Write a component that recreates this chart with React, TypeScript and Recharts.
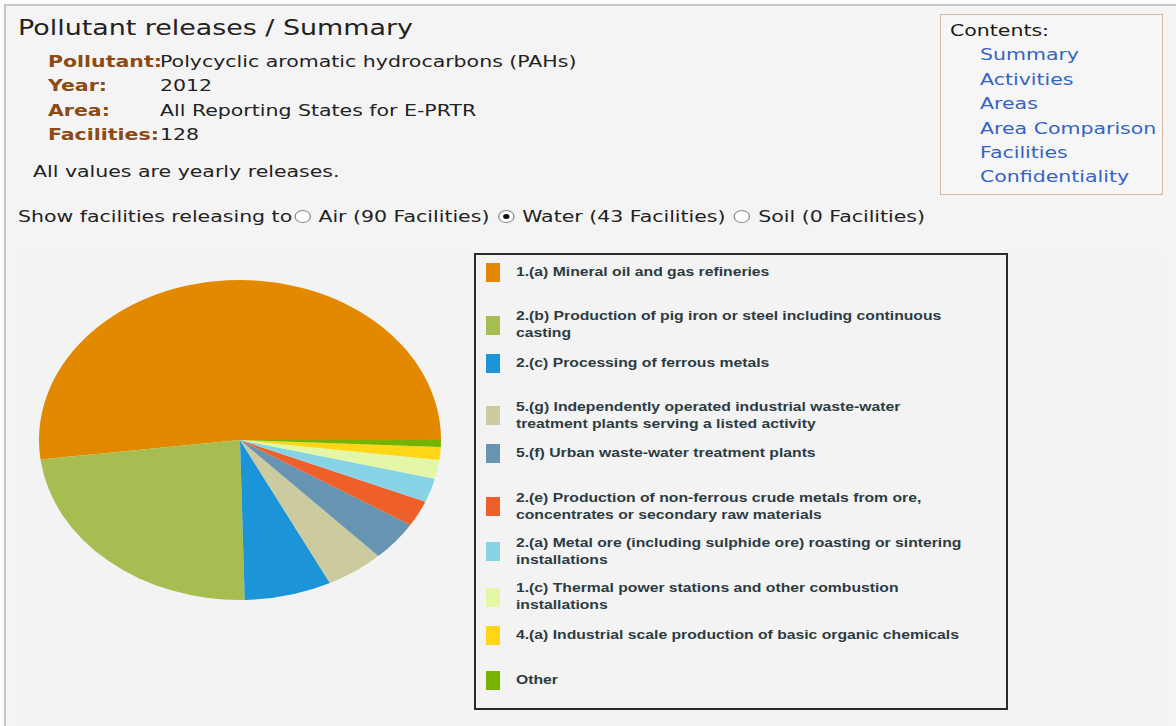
import { PieChart, Pie, Cell, Legend } from 'recharts';

const activities = [
    "1.(a) Mineral oil and gas refineries",
    "2.(b) Production of pig iron or steel including continuous\ncasting",
    "2.(c) Processing of ferrous metals",
    "5.(g) Independently operated industrial waste-water\ntreatment plants serving a listed activity",
    "5.(f) Urban waste-water treatment plants",
    "2.(e) Production of non-ferrous crude metals from ore,\nconcentrates or secondary raw materials",
    "2.(a) Metal ore (including sulphide ore) roasting or sintering\ninstallations",
    "1.(c) Thermal power stations and other combustion\ninstallations",
    "4.(a) Industrial scale production of basic organic chemicals",
    "Other",
];
// share of yearly water releases (%)
const shares = [51.9, 23.4, 7.0, 4.7, 4.0, 2.6, 2.4, 1.9, 1.3, 0.7];
const colors = [
    "#E38900", "#A6BD52", "#1B95D8", "#CCCA9F", "#6694B1",
    "#EE5F2A", "#87D3E6", "#E4F7A6", "#FFD616", "#76B300",
];

const details = [
    ["Pollutant:", "Polycyclic aromatic hydrocarbons (PAHs)"],
    ["Year:", "2012"],
    ["Area:", "All Reporting States for E-PRTR"],
    ["Facilities:", "128"],
];
const contentLinks = ["Summary", "Activities", "Areas", "Area Comparison", "Facilities", "Confidentiality"];
const mediums = [
    { label: "Air (90 Facilities)", checked: false },
    { label: "Water (43 Facilities)", checked: true },
    { label: "Soil (0 Facilities)", checked: false },
];

const data = activities.map((name, i) => ({ name, value: shares[i] }));

const CX = 240;
const CY = 440;
const RX = 201;
const RY = 160;
// the whole page looks stretched sideways
const SX = 1.28;

const stretch = { transform: `scaleX(${SX})`, transformOrigin: '0 0' } as const;

function Radio({ checked }: { checked: boolean }) {
    return (
        <span style={{
            display: 'inline-block', width: 13, height: 13, borderRadius: '50%',
            border: '1px solid #8a8a8a', background: '#fff', position: 'relative',
            margin: '0 6px 0 1.5px', verticalAlign: '-1px', boxSizing: 'border-box',
        }}>
            {checked && <span style={{
                position: 'absolute', left: 3, top: 3, width: 5, height: 5,
                borderRadius: '50%', background: '#111',
            }} />}
        </span>
    );
}

function LegendBox(props: any) {
    const items = [...(props.payload || [])].sort(
        (a: any, b: any) => activities.indexOf(a.value) - activities.indexOf(b.value));
    return (
        <div style={{
            width: 534, height: 457, boxSizing: 'border-box', border: '2px solid #2a2a2a',
            paddingTop: 8, fontFamily: '"Liberation Sans", Arial, sans-serif',
        }}>
            {items.map((it: any) => (
                <div key={it.value} style={{ height: 45.33 }}>
                    <div style={{ display: 'flex', alignItems: 'center' }}>
                        <span style={{
                            display: 'inline-block', width: 14, height: 19, marginLeft: 10,
                            marginRight: 16, background: it.color, flexShrink: 0,
                        }} />
                        <span style={{
                            fontSize: 12, fontWeight: 'bold', lineHeight: '17px', color: '#2c3b42',
                            whiteSpace: 'pre', display: 'inline-block',
                            transform: 'scaleX(1.31)', transformOrigin: '0 0',
                        }}>{it.value}</span>
                    </div>
                </div>
            ))}
        </div>
    );
}

export default function App() {
    return (
        <div style={{
            position: 'absolute', left: 0, top: 0, width: 1176, height: 726, overflow: 'hidden',
            background: '#fbfbfb', fontFamily: '"DejaVu Sans", Verdana, sans-serif',
        }}>
            <style>{`
                .ellipse-pie .recharts-pie-sector {
                    transform-box: view-box;
                    transform-origin: 0 0;
                    transform: translate(0px, ${CY}px) scale(1, ${RY / RX}) translate(0px, -${CY}px);
                }
            `}</style>
            <div style={{
                position: 'absolute', left: 4, top: 4, width: 1180, height: 730,
                borderTop: '2px solid #c6c6c6', borderLeft: '2px solid #c6c6c6', background: '#f4f4f4',
            }} />
            <div style={{
                position: 'absolute', left: 17, top: 252, width: 1146, height: 480, background: '#f3f3f3',
            }} />

            <div style={{
                position: 'absolute', left: 18, top: 15, fontSize: 21, lineHeight: '26px', color: '#222',
                whiteSpace: 'nowrap', ...stretch,
            }}>
                Pollutant releases / Summary
            </div>

            {details.map(([k, v], i) => (
                <div key={k} style={{
                    position: 'absolute', left: 48, top: 50 + i * 24.4, height: 24, lineHeight: '24px',
                    fontSize: 16, display: 'flex', whiteSpace: 'nowrap', ...stretch,
                }}>
                    <span style={{ width: 112 / SX, fontWeight: 'bold', color: '#8c4a14' }}>{k}</span>
                    <span style={{ color: '#222' }}>{v}</span>
                </div>
            ))}

            <div style={{
                position: 'absolute', left: 33, top: 160, fontSize: 16, lineHeight: '24px', color: '#222',
                whiteSpace: 'nowrap', ...stretch,
            }}>
                All values are yearly releases.
            </div>

            <div style={{
                position: 'absolute', left: 18, top: 205, fontSize: 16, lineHeight: '24px', color: '#222',
                whiteSpace: 'nowrap', ...stretch,
            }}>
                Show facilities releasing to
                {mediums.map(m => (
                    <span key={m.label}>
                        <Radio checked={m.checked} />{m.label}{' '}
                    </span>
                ))}
            </div>

            <div style={{
                position: 'absolute', left: 940, top: 14, width: 223, height: 181, boxSizing: 'border-box',
                border: '1px solid #d5b7a0', background: '#f6f6f6', paddingTop: 4,
            }}>
                <div style={{ marginLeft: 9, fontSize: 16, lineHeight: '24.4px', color: '#1a1a1a', ...stretch }}>Contents:</div>
                {contentLinks.map(l => (
                    <div key={l} style={{
                        marginLeft: 39, fontSize: 16, lineHeight: '24.4px', color: '#3563c4',
                        whiteSpace: 'nowrap', ...stretch,
                    }}>{l}</div>
                ))}
            </div>

            <div style={{ position: 'absolute', left: 0, top: 0 }}>
                <PieChart className="ellipse-pie" width={1176} height={726}
                    margin={{ top: 0, right: 0, bottom: 0, left: 0 }}>
                    <Pie
                        data={data}
                        dataKey="value"
                        nameKey="name"
                        cx={CX}
                        cy={CY}
                        outerRadius={RX}
                        startAngle={0}
                        endAngle={360}
                        stroke="none"
                        isAnimationActive={false}
                    >
                        {data.map((d, i) => <Cell key={d.name} fill={colors[i]} />)}
                    </Pie>
                    <Legend
                        layout="vertical"
                        align="right"
                        verticalAlign="middle"
                        content={<LegendBox />}
                        wrapperStyle={{ left: 474, top: 253, width: 534, height: 457, right: 'auto', bottom: 'auto' }}
                    />
                </PieChart>
            </div>
        </div>
    );
}
